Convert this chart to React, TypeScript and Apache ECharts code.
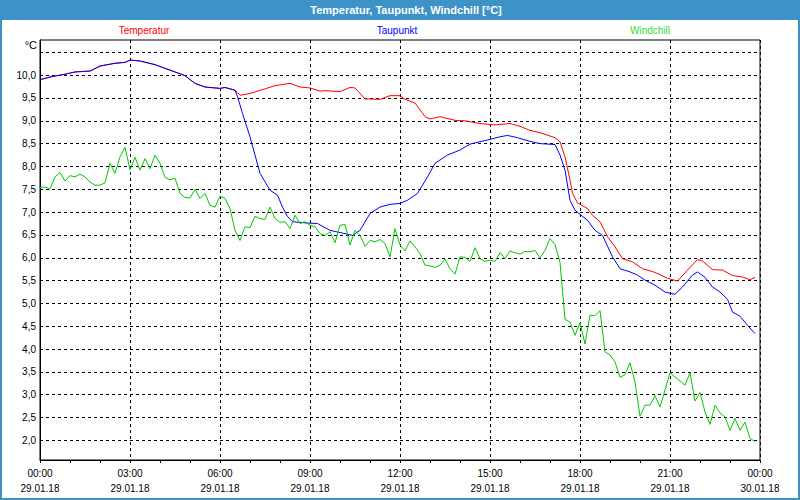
import React, { useEffect, useRef } from 'react';
import * as echarts from 'echarts';

// Time in minutes after 29.01.18 00:00
const tempMinutes = [0, 20, 50, 70, 100, 120, 150, 170, 180, 200, 230, 260, 290, 310, 330, 360, 370, 390, 400, 420, 450, 470, 500, 520, 540, 560, 570, 600, 620, 630, 650, 680, 700, 720, 730, 750, 770, 780, 800, 830, 850, 880, 910, 940, 960, 980, 1000, 1030, 1040, 1050, 1060, 1065, 1075, 1095, 1105, 1120, 1135, 1150, 1165, 1185, 1205, 1230, 1255, 1275, 1295, 1315, 1325, 1345, 1365, 1385, 1405, 1420, 1430];
const tempValues = [9.9, 9.96, 10.02, 10.07, 10.09, 10.2, 10.26, 10.28, 10.33, 10.31, 10.23, 10.11, 9.99, 9.82, 9.74, 9.71, 9.73, 9.67, 9.56, 9.6, 9.7, 9.77, 9.82, 9.74, 9.72, 9.65, 9.66, 9.64, 9.73, 9.72, 9.48, 9.47, 9.55, 9.55, 9.47, 9.39, 9.09, 9.04, 9.09, 9.01, 9.0, 8.94, 8.91, 8.94, 8.88, 8.79, 8.74, 8.63, 8.54, 8.21, 7.7, 7.41, 7.2, 7.08, 6.93, 6.79, 6.46, 6.24, 5.98, 5.91, 5.76, 5.68, 5.55, 5.49, 5.73, 5.96, 5.93, 5.74, 5.73, 5.61, 5.58, 5.52, 5.57];

const dewMinutes = [0, 20, 50, 70, 100, 120, 150, 170, 180, 200, 230, 260, 290, 310, 330, 360, 370, 390, 395, 405, 420, 440, 460, 475, 485, 495, 505, 535, 555, 580, 605, 625, 640, 660, 680, 700, 720, 735, 755, 775, 790, 815, 840, 860, 895, 920, 935, 955, 980, 1000, 1030, 1040, 1050, 1060, 1070, 1080, 1095, 1110, 1125, 1145, 1160, 1180, 1195, 1210, 1230, 1250, 1270, 1285, 1305, 1315, 1330, 1345, 1360, 1375, 1385, 1400, 1415, 1430];
const dewValues = [9.9, 9.96, 10.02, 10.07, 10.09, 10.2, 10.26, 10.28, 10.33, 10.31, 10.23, 10.11, 9.99, 9.82, 9.74, 9.71, 9.73, 9.67, 9.53, 9.16, 8.65, 7.85, 7.48, 7.37, 7.11, 6.9, 6.79, 6.76, 6.75, 6.6, 6.54, 6.49, 6.6, 6.97, 7.11, 7.17, 7.19, 7.26, 7.41, 7.77, 8.07, 8.25, 8.36, 8.49, 8.58, 8.65, 8.68, 8.63, 8.55, 8.5, 8.48, 8.25, 7.92, 7.26, 7.04, 6.95, 6.82, 6.6, 6.49, 6.02, 5.76, 5.69, 5.62, 5.51, 5.4, 5.25, 5.2, 5.36, 5.62, 5.69, 5.57, 5.36, 5.25, 5.09, 4.81, 4.72, 4.52, 4.34];

const chillMinutes = [0, 10, 20, 30, 40, 50, 60, 70, 80, 90, 100, 110, 120, 130, 140, 150, 160, 170, 180, 190, 200, 210, 220, 230, 240, 250, 260, 270, 280, 290, 300, 310, 320, 330, 340, 350, 360, 370, 380, 390, 400, 410, 420, 430, 440, 450, 460, 470, 480, 490, 500, 510, 520, 530, 540, 550, 560, 570, 580, 590, 600, 610, 620, 630, 640, 650, 660, 670, 680, 690, 700, 710, 720, 730, 740, 750, 760, 770, 780, 790, 800, 810, 820, 830, 840, 850, 860, 870, 880, 890, 900, 910, 920, 930, 940, 950, 960, 970, 980, 990, 1000, 1010, 1020, 1030, 1040, 1050, 1060, 1070, 1080, 1090, 1100, 1110, 1120, 1130, 1140, 1150, 1160, 1170, 1180, 1190, 1200, 1210, 1220, 1230, 1240, 1250, 1260, 1270, 1280, 1290, 1300, 1310, 1320, 1330, 1340, 1350, 1360, 1370, 1380, 1390, 1400, 1410, 1420, 1430];
const chillValues = [7.54, 7.55, 7.51, 7.77, 7.87, 7.68, 7.8, 7.77, 7.83, 7.77, 7.66, 7.59, 7.59, 7.64, 8.07, 7.85, 8.21, 8.42, 7.93, 8.2, 7.92, 8.17, 7.95, 8.25, 8.07, 7.76, 7.71, 7.74, 7.41, 7.32, 7.31, 7.5, 7.3, 7.41, 7.15, 7.11, 7.35, 7.3, 7.08, 6.6, 6.38, 6.68, 6.66, 6.91, 6.86, 6.84, 7.11, 6.86, 6.78, 6.79, 6.64, 6.93, 6.75, 6.79, 6.71, 6.68, 6.53, 6.49, 6.57, 6.33, 6.71, 6.73, 6.28, 6.6, 6.49, 6.25, 6.38, 6.35, 6.4, 6.31, 6.02, 6.64, 6.28, 6.15, 6.37, 6.24, 6.09, 5.84, 5.82, 5.79, 5.84, 5.97, 5.76, 5.64, 6.02, 6.01, 5.92, 6.22, 5.98, 5.92, 5.95, 5.92, 6.11, 5.98, 6.15, 6.11, 6.08, 6.14, 6.13, 6.16, 6.0, 6.16, 6.42, 6.29, 5.9, 4.65, 4.59, 4.3, 4.58, 4.11, 4.74, 4.73, 4.84, 3.94, 3.87, 3.72, 3.38, 3.44, 3.7, 3.28, 2.53, 2.77, 2.77, 2.98, 2.73, 3.1, 3.48, 3.39, 3.3, 3.21, 3.48, 2.86, 3.05, 2.62, 2.35, 2.77, 2.6, 2.51, 2.22, 2.48, 2.22, 2.4, 2.04, 1.98];

const yGridValues = [2, 2.5, 3, 3.5, 4, 4.5, 5, 5.5, 6, 6.5, 7, 7.5, 8, 8.5, 9, 9.5, 10, 10.5];
const yLabelValues = [2, 2.5, 3, 3.5, 4, 4.5, 5, 5.5, 6, 6.5, 7, 7.5, 8, 8.5, 9, 9.5, 10];

const TITLE = 'Temperatur, Taupunkt, Windchill [°C]';
const SERIES_NAMES = ['Temperatur', 'Taupunkt', 'Windchill'];
const FONT = '"Liberation Sans", Arial, sans-serif';

const pair = (xs: number[], ys: number[]) => xs.map((x, i) => [x, ys[i]]);
const pad = (n: number) => (n < 10 ? '0' + n : '' + n);

export default function App() {
  const ref = useRef<HTMLDivElement>(null);
  useEffect(() => {
    const chart = echarts.init(ref.current!, null, { renderer: 'svg' });
    const option: any = {
      animation: false,
      backgroundColor: '#ffffff',
      grid: {
        left: 40, right: 40, top: 40, bottom: 40,
        show: true, borderColor: '#000', borderWidth: 1, backgroundColor: 'transparent',
      },
      xAxis: {
        type: 'value', min: 0, max: 1440, interval: 180,
        axisLine: { lineStyle: { color: '#000', width: 1 } },
        axisTick: { show: true, length: 3, lineStyle: { color: '#000' } },
        minorTick: { show: true, splitNumber: 3, length: 3, lineStyle: { color: '#000' } },
        splitLine: { show: true, lineStyle: { color: '#000', width: 1, type: [3, 3] } },
        axisLabel: {
          color: '#000', fontSize: 10, fontFamily: FONT, lineHeight: 15, margin: 6,
          showMinLabel: true, showMaxLabel: true,
          formatter: (v: number) => {
            const h = Math.round(v / 60);
            const day = h >= 24 ? '30.01.18' : '29.01.18';
            return pad(h % 24) + ':00\n' + day;
          },
        },
      },
      yAxis: {
        type: 'value', min: 1.57, max: 10.77,
        axisLine: { show: true, lineStyle: { color: '#000', width: 1 } },
        axisTick: { show: false, customValues: yGridValues },
        splitLine: { show: true, lineStyle: { color: '#000', width: 1, type: [3, 3] } },
        axisLabel: {
          customValues: yLabelValues,
          color: '#000', fontSize: 10, fontFamily: FONT, margin: 4,
          formatter: (v: number) => v.toFixed(1).replace('.', ','),
        },
      },
      graphic: [
        { type: 'rect', silent: true, shape: { x: 0, y: 0, width: 800, height: 20 }, style: { fill: '#3d92c8' } },
        { type: 'rect', silent: true, shape: { x: 1, y: 1, width: 798, height: 498 }, style: { fill: 'none', stroke: '#3d92c8', lineWidth: 2 } },
        { type: 'text', silent: true, x: 406, y: 10, style: { text: TITLE, fill: '#ffffff', font: 'bold 11px ' + FONT, textAlign: 'center', textVerticalAlign: 'middle' } },
        { type: 'text', silent: true, x: 144, y: 30, style: { text: SERIES_NAMES[0], fill: '#ff0000', font: '10px ' + FONT, textAlign: 'center', textVerticalAlign: 'middle' } },
        { type: 'text', silent: true, x: 397, y: 30, style: { text: SERIES_NAMES[1], fill: '#0000ff', font: '10px ' + FONT, textAlign: 'center', textVerticalAlign: 'middle' } },
        { type: 'text', silent: true, x: 650, y: 30, style: { text: SERIES_NAMES[2], fill: '#33dd33', font: '10px ' + FONT, textAlign: 'center', textVerticalAlign: 'middle' } },
        { type: 'text', silent: true, x: 37, y: 45, style: { text: '°C', fill: '#000', font: '11px ' + FONT, textAlign: 'right', textVerticalAlign: 'middle' } },
      ],
      series: [
        { name: SERIES_NAMES[0], type: 'line', data: pair(tempMinutes, tempValues), showSymbol: false, symbol: 'none', lineStyle: { color: '#ff0000', width: 1 }, itemStyle: { color: '#ff0000' } },
        { name: SERIES_NAMES[1], type: 'line', data: pair(dewMinutes, dewValues), showSymbol: false, symbol: 'none', lineStyle: { color: '#0000ff', width: 1 }, itemStyle: { color: '#0000ff' } },
        { name: SERIES_NAMES[2], type: 'line', data: pair(chillMinutes, chillValues), showSymbol: false, symbol: 'none', lineStyle: { color: '#00c800', width: 1 }, itemStyle: { color: '#00c800' } },
      ],
    };
    chart.setOption(option);
    return () => chart.dispose();
  }, []);
  return <div ref={ref} style={{ position: 'absolute', left: 0, top: 0, width: 800, height: 500 }} />;
}
